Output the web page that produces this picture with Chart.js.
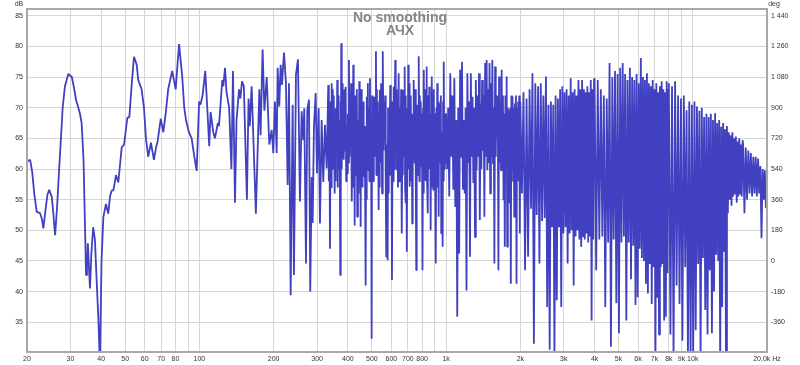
<!DOCTYPE html>
<html>
<head>
<meta charset="utf-8">
<title>АЧХ</title>
<script src="https://cdn.jsdelivr.net/npm/chart.js@4.4.1/dist/chart.umd.min.js"></script>
<style>
  html, body { margin: 0; padding: 0; background: #ffffff; }
</style>
</head>
<body>
<canvas id="fr-chart" width="800" height="365"></canvas>
<script>
// Frequency response, no smoothing. Frequencies in Hz, levels in dB.
// 20 - 100 Hz
const hzA = [20, 20.6, 21.0, 21.4, 21.9, 22.6, 23.0, 23.3, 23.8, 24.2, 24.6, 25.2, 25.6, 26.0, 26.5, 27.0, 27.5, 27.9, 28.5, 29.4,
  30.4, 31.0, 31.6, 32.3, 32.8, 33.3, 33.9, 34.4, 34.7, 35.0, 35.3, 35.6, 36.0, 36.5, 37.1, 37.7, 38.3, 38.9, 39.5, 40.1,
  40.8, 41.8, 42.7, 43.4, 44.1, 44.8, 45.9, 46.9, 48.4, 49.5, 51.0, 52.0, 53.2, 54.3, 55.7, 56.5, 58.3, 59.6, 60.7, 62.0,
  63.6, 65.4, 66.7, 67.7, 69.7, 71.4, 73.2, 74.7, 77.6, 80.1, 82.7, 85.2, 86.8, 88.2, 90.7, 93.0, 95.4, 97.5, 99.7];
const dbA = [61.2, 61.5, 59.5, 56, 53, 52.8, 51.8, 50.3, 53.5, 55.8, 56.6, 55.5, 52.5, 49.2, 54, 60, 65.5, 70, 73.5, 75.5,
  75, 73.3, 71.3, 70, 69, 67.5, 61.5, 50, 42.7, 44, 47.9, 44.5, 40.5, 46.5, 50.5, 48.5, 42, 36, 28, 45,
  52.2, 54.3, 52.7, 55.5, 56.5, 56.5, 59, 57.8, 63.5, 64, 68.3, 68.5, 74, 78.3, 77, 74.5, 73, 70, 65, 62,
  64.3, 61.5, 63.5, 64.5, 68.2, 66, 69.5, 73, 76, 73, 80.4, 75, 70, 68, 66, 65, 62, 59.7, 71];

// 100 - 200 Hz
const hzB = [101, 103, 105.6, 107.6, 109.6, 111, 113.8, 115.6, 118.8, 120, 123.8, 125, 127, 128.8, 132, 134.8, 136.8, 139.4,
  141.4, 144.8, 146.6, 148.8, 151.4, 155.8, 158.2, 160, 162.8, 167.4, 169.4, 175, 177, 180.4, 183.4, 187.4, 192];
const dbB = [70.5, 72, 76, 70, 63.7, 69.3, 66, 65, 67.5, 67, 74.5, 73.5, 76.5, 72.5, 70, 60, 76, 54.5,
  68, 73, 71.5, 74.3, 73.5, 55, 71.5, 67, 73.5, 59, 52.7, 73, 65.5, 79.5, 69.5, 75, 64];

// 200 - 330 Hz
const hzC = [196.3, 199.3, 202.4, 205.7, 207.6, 210.7, 213.5, 216.1, 220.2, 224.3, 227.9, 230.7, 234.4, 238.8, 241.7, 246.3,
  250.9, 255.6, 259.7, 263.6, 266.1, 270.4, 273.7, 278.1, 281.4, 285.2, 287.8, 291.3, 296, 299.6, 304.4, 308.1, 313,
  317.8, 322.8, 328];
const dbC = [66.4, 62.6, 71, 62.6, 76.5, 70.2, 77, 73.7, 79, 74, 57.4, 74, 39.4, 70.5, 42.7, 75.4,
  77.9, 54.7, 69.4, 64.7, 69.9, 44.6, 69.6, 71.3, 40, 58.7, 51.2, 66.9, 72.4, 59.3, 69.9, 51.1, 68,
  57.9, 67.2, 60.1];

// 330 Hz - 1 kHz
const hzC2 = [332.9, 334.7, 336.5, 338.3, 340.1, 341.9, 343.7, 345.4, 347.1, 348.8, 350.3, 351.9, 353.4, 354.8, 356.3,
  357.7, 359.2, 360.6, 362.1, 363.7, 365.3, 366.9, 368.7, 370.6, 372.4, 373.6, 374.7, 375.9, 377.5, 379.2, 380.8,
  382.4, 383.9, 385.5, 387.5, 389.6, 391.6, 393.6, 395.5, 397.5, 399.6, 401.8, 403.9, 406.1, 408.2, 410.4, 412.1,
  413.7, 415.4, 417.1, 418.7, 420.4, 422.3, 424.1, 426, 427.7, 429.5, 431.2, 432.9, 434.7, 436.4, 439.2, 441.9,
  444.7, 446.6, 448.6, 450.5, 452.3, 454.2, 456, 458.4, 460.9, 463.3, 466.2, 469.1, 472, 473.9, 475.9, 477.8,
  479.7, 481.7, 483.6, 486.2, 488.7, 491.3, 493.9, 496.6, 499.2, 501.2, 503.3, 505.3, 507.4, 509.4, 511.5, 514.2,
  516.9, 519.6, 521.7, 523.9, 526, 528.3, 530.6, 532.9, 535.1, 537.2, 539.4, 542.3, 545.2, 548.1, 550.3, 552.6,
  554.8, 557.7, 560.7, 563.6, 566.4, 569.3, 572.1, 574.6, 577.1, 579.6, 582, 584.3, 586.7, 589.1, 591.4, 593.8,
  597, 600.2, 603.4, 606.6, 609.8, 613, 616.1, 619.1, 622.2, 624.9, 627.7, 630.4, 634.4, 638.3, 642.3, 646.3,
  650.4, 654.4, 657.1, 659.7, 662.4, 665.1, 667.8, 670.5, 673.4, 676.4, 679.3, 682.1, 684.8, 687.6, 689.8, 692,
  694.1, 696.9, 699.7, 702.5, 705.6, 708.7, 711.8, 714.7, 717.6, 720.5, 723.4, 726.3, 729.2, 732.4, 735.7, 738.9,
  741.9, 744.9, 747.9, 751, 754, 757, 760.3, 763.6, 766.9, 770, 773.2, 776.3, 779.5, 782.6, 785.8, 789.3, 792.7,
  796.2, 798.7, 801.1, 803.6, 806.9, 810.2, 813.5, 816.8, 820.1, 823.4, 827, 830.6, 834.2, 837.6, 841, 844.4,
  847.8, 851.3, 854.7, 858.4, 862.2, 865.9, 869.5, 873, 876.6, 880.1, 883.7, 887.2, 891.1, 895, 898.9, 902.6,
  906.2, 909.9, 913.6, 917.3, 921, 925, 929, 933.1, 936.9, 940.7, 944.5, 948.3, 952.2, 956, 960.2, 964.4, 968.6,
  972.5, 976.5, 980.4, 984.4, 988.4, 992.4];
const dbC2 = [73.7, 58, 71, 47, 66, 57, 74, 60, 73, 62, 72, 64, 56, 67, 58,
  69.9, 63, 66, 74.5, 57, 72, 59.8, 68, 62, 42.7, 71, 55, 80.5, 60, 74, 69.6,
  64, 70, 61.5, 73, 63, 73.4, 58, 67, 59.3, 69, 61, 77.8, 62, 72, 65, 74,
  60, 54.7, 66, 57, 77, 64, 69, 50.8, 72, 62, 70.5, 59, 73, 52.2, 68, 56,
  74.3, 61, 70, 50.6, 73, 64, 69.4, 57, 71, 58.7, 67, 60, 41, 65, 55, 71.8,
  63, 74, 59.8, 70, 58, 74.8, 60, 68, 32.3, 72, 61, 67.5, 58, 66, 71.8, 62,
  70, 79.2, 59, 73, 63.6, 71, 64, 53.3, 69, 57, 72.9, 61, 74, 70.2, 56, 68,
  79.2, 63, 71, 65.3, 72, 58, 45.7, 64, 60, 45.1, 70, 56, 66.4, 59, 67, 73.7,
  62, 71, 41.9, 66, 58, 73.4, 60, 69, 77.8, 64, 73, 59.8, 71, 57, 75.6, 58,
  70, 63.6, 73, 61, 49.5, 67, 59, 72.9, 62, 68, 76.7, 57, 72, 54.4, 70, 63,
  46.5, 68, 60, 77, 61, 74, 57.1, 72, 58, 71.8, 59, 66, 51.1, 69, 62, 74.5,
  63, 71, 60.9, 73, 57, 43.5, 66, 59, 70.5, 60, 70, 78.4, 58, 72, 60.4, 71, 61,
  69.1, 64, 68, 43.5, 70, 56, 76.2, 60, 73, 58.2, 67, 62, 76.7, 58, 70, 52.8,
  72, 60, 73.4, 62, 69, 50, 68, 57, 75.1, 59, 72, 56.6, 73, 63, 69.1, 61,
  67, 44.6, 70, 58, 74, 57, 71, 52.2, 69, 61, 70.7, 63, 72, 49.5, 66, 59, 47.3,
  71, 58, 77.5, 60, 69, 60.9];

// 1 - 2 kHz
const hzD = [1000, 1010, 1020, 1030, 1040, 1050, 1060, 1070, 1080, 1090, 1100, 1110, 1120, 1130, 1140, 1150, 1160, 1170,
  1180, 1190, 1200, 1210, 1220, 1230, 1240, 1250, 1260, 1270, 1280, 1290, 1300, 1310, 1320, 1330, 1340, 1350, 1360,
  1370, 1380, 1390, 1400, 1410, 1420, 1430, 1440, 1450, 1460, 1470, 1480, 1490, 1500, 1510, 1520, 1530, 1540, 1550,
  1560, 1570, 1580, 1590, 1600, 1610, 1620, 1630, 1640, 1650, 1660, 1670, 1680, 1690, 1700, 1710, 1720, 1730, 1740,
  1750, 1760, 1770, 1780, 1790, 1800, 1810, 1820, 1830, 1840, 1850, 1860, 1870, 1880, 1890, 1900, 1910, 1920, 1930,
  1940, 1950, 1960, 1970, 1980, 1990];
const dbD = [69.1, 60, 70, 55.5, 75.6, 62, 72, 56.6, 74.8, 53.8, 68, 35.9, 70, 46.2, 76.2, 62, 77.5, 56.6,
  68, 56, 70, 40.2, 75.6, 61, 71, 45.7, 75.6, 62, 71.8, 57.7, 70, 48.9, 74.5, 59.8, 72, 62, 75.6,
  51.7, 70.7, 60, 74.5, 63, 72, 52.2, 77.3, 62, 77.8, 59.8, 73, 61, 77.3, 56, 74, 62, 77.8, 60.9,
  70, 44.6, 76.7, 62, 72, 65.3, 72, 43.5, 75.1, 61, 71, 59.8, 76.2, 62, 72, 54.9, 69, 47.3, 72,
  61, 75.1, 47.3, 70, 60, 69.6, 54.4, 70, 41.3, 72, 60, 71.8, 58, 70, 52.2, 70.7, 60, 72, 41.3,
  70, 59, 71, 58, 72, 49.5];

// 2 - 4 kHz
const hzE = [2000, 2030, 2060, 2090, 2120, 2150, 2180, 2210, 2240, 2270, 2300, 2330, 2360, 2390, 2420, 2450, 2480, 2510,
  2540, 2570, 2600, 2630, 2660, 2690, 2720, 2750, 2780, 2810, 2840, 2870, 2900, 2930, 2960, 2990, 3020, 3050, 3080,
  3110, 3140, 3170, 3200, 3230, 3260, 3290, 3320, 3350, 3380, 3410, 3440, 3470, 3500, 3530, 3560, 3590, 3620, 3650,
  3680, 3710, 3740, 3770, 3800, 3830, 3860, 3890, 3920, 3950, 3980];
const dbE = [71, 56, 72.5, 43.5, 71.5, 45.7, 73, 53.5, 75.6, 31.5, 74, 52.5, 73.5, 44.6, 74, 51.5, 72, 52,
  75.1, 37.5, 70.5, 30.5, 71, 50.5, 70.5, 29, 72, 38.6, 71.5, 50.5, 73, 37.5, 73.5, 49.5, 72.5, 50.5, 73,
  44.6, 72, 49.5, 74.8, 50, 72.5, 41, 73, 49, 72, 50, 74.5, 48.5, 73, 47.3, 74.5, 49, 73, 48.5,
  72.5, 49.5, 73.5, 48, 72.5, 49, 74.5, 35.3, 73, 48.5, 74.8];

// 4 - 8 kHz
const hzF = [4000, 4060, 4120, 4180, 4240, 4300, 4360, 4420, 4480, 4540, 4600, 4660, 4720, 4780, 4840, 4900, 4960, 5020,
  5080, 5140, 5200, 5260, 5320, 5380, 5440, 5500, 5560, 5620, 5680, 5740, 5800, 5860, 5920, 5980, 6040, 6100, 6160,
  6220, 6280, 6340, 6400, 6460, 6520, 6580, 6640, 6700, 6760, 6820, 6880, 6940, 7000, 7060, 7120, 7180, 7240, 7300,
  7360, 7420, 7480, 7540, 7600, 7660, 7720, 7780, 7840, 7900, 7960];
const dbF = [74, 43.5, 74.5, 48.5, 73, 49, 72, 37.5, 71.5, 48, 77.3, 31, 75, 48.5, 76, 38.1, 75.5, 33.2,
  76.5, 48, 77.3, 49, 75.5, 35.3, 74.5, 48, 76.5, 42, 75, 47.5, 74.5, 37.8, 75.5, 39.1, 74, 47, 78.1,
  45.5, 75, 45, 74.5, 41.3, 75.6, 39.7, 74, 44.5, 73.5, 38, 74.5, 44, 73, 28, 74, 39, 72.5, 33,
  73.5, 44, 74.3, 44.5, 73, 35.3, 72.5, 35.9, 74.3, 43, 73];

// 8 - 16 kHz
const hzG = [8000, 8120, 8240, 8360, 8480, 8600, 8720, 8840, 8960, 9080, 9200, 9320, 9440, 9560, 9680, 9800, 9920, 10040,
  10160, 10280, 10400, 10520, 10640, 10760, 10880, 11000, 11120, 11240, 11360, 11480, 11600, 11720, 11840, 11960, 12080,
  12200, 12320, 12440, 12560, 12680, 12800, 12920, 13040, 13160, 13280, 13400, 13520, 13640, 13760, 13880, 14000, 14120,
  14240, 14360, 14480, 14600, 14720, 14840, 14960, 15080, 15200, 15320, 15440, 15560, 15680, 15800, 15920];
const dbG = [74, 33, 73.5, 29, 74.3, 41, 72, 38, 71.5, 32, 72, 44, 69.6, 29, 71, 28, 70.5, 30,
  71, 33.7, 70.2, 44.5, 69.5, 29, 70, 45.5, 68.5, 37, 69, 33, 68.5, 43.5, 69, 33.2, 68,
  40, 69.1, 46, 67.5, 45, 68, 28, 66.9, 37.5, 67.5, 46.5, 66.5, 28, 67, 52.8, 66, 55,
  65.5, 54, 66, 55.5, 65, 56, 65.3, 54.5, 64.5, 55.5, 65, 56, 64, 55.5, 64.7];

// 16 - 20 kHz
const hzH = [16000, 16200, 16400, 16600, 16800, 17000, 17200, 17400, 17600, 17800, 18000, 18200, 18400, 18600, 18800,
  19000, 19200, 19400, 19600, 19800, 20000];
const dbH = [64, 52.8, 63.5, 55, 63, 56, 62.6, 55.5, 62, 56, 62, 55.5, 61.7, 56, 60.5,
  48.7, 60, 55, 59.8, 53.6, 57];

// Axes
const hzGrid = [20, 30, 40, 50, 60, 70, 80, 90, 100, 200, 300, 400, 500, 600, 700, 800, 900,
  1000, 2000, 3000, 4000, 5000, 6000, 7000, 8000, 9000, 10000, 20000];
const hzLabels = ['20', '30', '40', '50', '60', '70', '80', '', '100', '200', '300', '400', '500', '600', '700', '800', '',
  '1k', '2k', '3k', '4k', '5k', '6k', '7k', '8k', '9k', '10k', '20,0k Hz'];
const dbTicks = [35, 40, 45, 50, 55, 60, 65, 70, 75, 80, 85];
const degTicks = [-360, -180, 0, 180, 360, 540, 720, 900, 1080, 1260, 1440];

const DB_MIN = 30.15, DB_MAX = 86.1;
// phase axis is locked to the level axis: 0 deg at 45 dB, 180 deg per 5 dB
const degOf = db => (db - 45) * 36;

const hzAll = [].concat(hzA, hzB, hzC, hzC2, hzD, hzE, hzF, hzG, hzH);
const dbAll = [].concat(dbA, dbB, dbC, dbC2, dbD, dbE, dbF, dbG, dbH);
const points = hzAll.map((f, i) => ({ x: f, y: dbAll[i] }));

function fmtDeg(v) {
  const s = String(Math.abs(v));
  const out = s.length > 3 ? s.slice(0, s.length - 3) + ' ' + s.slice(-3) : s;
  return v < 0 ? '-' + out : out;
}

Chart.defaults.font.family = "'Liberation Sans', Arial, sans-serif";
Chart.defaults.font.size = 7;
Chart.defaults.color = '#333333';

const gridColor = '#d6d6d6';

// Frame round the plot area, title and unit labels
const framePlugin = {
  id: 'frame',
  afterDatasetsDraw(chart) {
    const { ctx, chartArea } = chart;
    ctx.save();
    ctx.strokeStyle = '#a8a8a8';
    ctx.lineWidth = 2;
    ctx.strokeRect(chartArea.left, chartArea.top, chartArea.right - chartArea.left, chartArea.bottom - chartArea.top);

    ctx.fillStyle = '#858585';
    ctx.font = "bold 14px 'Liberation Sans', Arial, sans-serif";
    ctx.textAlign = 'center';
    ctx.textBaseline = 'middle';
    ctx.fillText('No smoothing', 400, 18);
    ctx.fillText('АЧХ', 400, 31);

    ctx.fillStyle = '#333333';
    ctx.font = "7px 'Liberation Sans', Arial, sans-serif";
    ctx.fillText('dB', 19, 4);
    ctx.fillText('deg', 774, 4);
    ctx.restore();
  }
};

new Chart(document.getElementById('fr-chart'), {
  type: 'line',
  data: {
    datasets: [{
      label: 'АЧХ',
      data: points,
      borderColor: '#4040c0',
      borderWidth: 1.8,
      borderJoinStyle: 'bevel',
      pointRadius: 0,
      tension: 0,
      fill: false,
      clip: 0
    }]
  },
  options: {
    responsive: false,
    animation: false,
    events: [],
    layout: { padding: { top: 9, left: 0, right: 0, bottom: 0 } },
    plugins: {
      legend: { display: false },
      tooltip: { enabled: false }
    },
    scales: {
      x: {
        type: 'logarithmic',
        position: 'bottom',
        min: 20,
        max: 20000,
        afterBuildTicks: scale => { scale.ticks = hzGrid.map(v => ({ value: v })); },
        afterFit: scale => { scale.height = 13; },
        grid: { color: gridColor, drawTicks: false },
        border: { display: false },
        ticks: {
          autoSkip: false,
          maxRotation: 0,
          padding: 3,
          callback: (value, index) => hzLabels[index]
        }
      },
      y: {
        position: 'left',
        min: DB_MIN,
        max: DB_MAX,
        afterBuildTicks: scale => { scale.ticks = dbTicks.map(v => ({ value: v })); },
        afterFit: scale => { scale.width = 27; },
        grid: { color: gridColor, drawTicks: false },
        border: { display: false },
        ticks: { padding: 4 }
      },
      y2: {
        position: 'right',
        display: true,
        min: degOf(DB_MIN),
        max: degOf(DB_MAX),
        afterBuildTicks: scale => { scale.ticks = degTicks.map(v => ({ value: v })); },
        afterFit: scale => { scale.width = 33; },
        grid: { display: false, drawTicks: false },
        border: { display: false },
        ticks: { padding: 4, callback: v => fmtDeg(v) }
      }
    }
  },
  plugins: [framePlugin]
});
</script>
</body>
</html>
